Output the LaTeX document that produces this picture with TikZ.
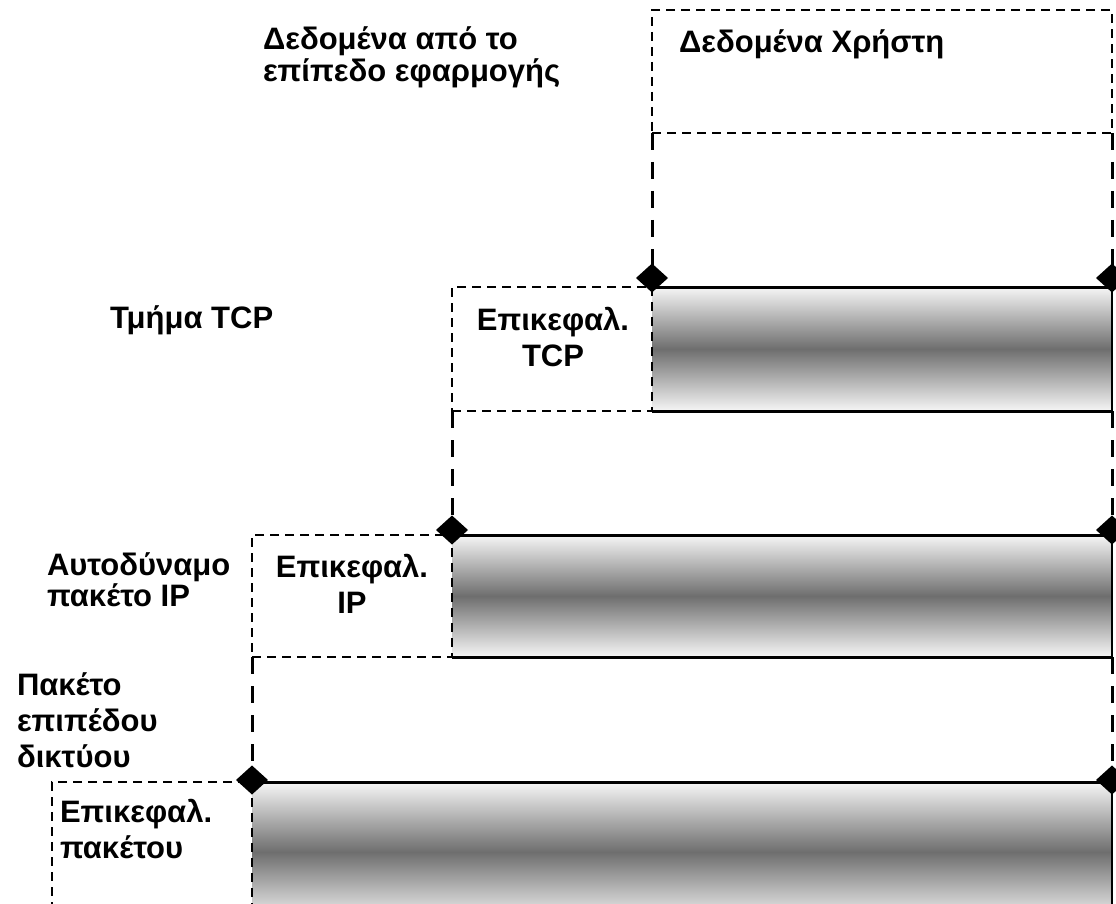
\documentclass[tikz,border=0pt]{standalone}
\usepackage{fontspec}
\setmainfont{Liberation Sans}
\usetikzlibrary{shapes.geometric}
\definecolor{bandlight}{HTML}{F6F6F6}
\definecolor{banddark}{HTML}{6E6E6E}
\begin{document}
\begin{tikzpicture}[x=1pt,y=-1pt,
  every node/.style={inner sep=0pt, outer sep=0pt},
  txt/.style={font=\fontsize{31}{30}\selectfont\bfseries, anchor=base west},
  hdrtxt/.style={font=\fontsize{31}{36}\selectfont\bfseries},
  hdrbox/.style={draw, line width=1.5pt, dash pattern=on 9pt off 6pt, anchor=north west},
  databox/.style={anchor=north west, shading=axis, top color=bandlight, bottom color=bandlight, middle color=banddark},
  link/.style={line width=3pt, dash pattern=on 17pt off 12pt},
  rim/.style={line width=3pt},
  siderim/.style={line width=2pt},
  joint/.style={diamond, fill=black, minimum width=32pt, minimum height=29pt}
]
\useasboundingbox (0,0) rectangle (1116,904);
\clip (0,0) rectangle (1116,904);

% application data
\node[hdrbox, minimum width=460pt, minimum height=123pt] (user) at (652,10) {};
\node[txt] (userlbl) at (679,53) {Δεδομένα Χρήστη};

% TCP segment
\node[databox, minimum width=460pt, minimum height=124pt] (tcpdata) at (652,287) {};
\node[hdrbox, minimum width=200pt, minimum height=124pt] (tcphdr) at (452,287) {};
\node[hdrtxt, anchor=base] (tcphdrlbl) at (553,330) {\begin{tabular}[t]{@{}c@{}}Επικεφαλ.\\TCP\end{tabular}};

% IP datagram
\node[databox, minimum width=660pt, minimum height=122pt] (ipdata) at (452,535) {};
\node[hdrbox, minimum width=200pt, minimum height=122pt] (iphdr) at (252,535) {};
\node[hdrtxt, anchor=base] (iphdrlbl) at (352,577) {\begin{tabular}[t]{@{}c@{}}Επικεφαλ.\\IP\end{tabular}};

% network-layer packet
\node[databox, minimum width=860pt, minimum height=140pt] (netdata) at (252,782) {};
\node[hdrbox, minimum width=200pt, minimum height=140pt] (nethdr) at (52,782) {};
\node[hdrtxt, anchor=base west] (nethdrlbl) at (60,822) {\begin{tabular}[t]{@{}l@{}}Επικεφαλ.\\πακέτου\end{tabular}};

% solid edges of the data blocks
\foreach \b in {tcpdata,ipdata,netdata}{
  \draw[rim] (\b.north west) -- (\b.north east);
  \draw[rim] (\b.south west) -- (\b.south east);
  \draw[siderim] (\b.north east) -- (\b.south east);
}

% joints
\node[joint] (tcpjl) at (652,278) {};
\node[joint] (tcpjr) at (1112,278) {};
\node[joint] (ipjl) at (452,530) {};
\node[joint] (ipjr) at (1112,530) {};
\node[joint] (netjl) at (252,780) {};
\node[joint] (netjr) at (1112,780) {};

% encapsulation links
\draw[link] (user.south west) -- (tcpjl.center);
\draw[link] (user.south east) -- (tcpjr.center);
\draw[link] (tcphdr.south west) -- (ipjl.center);
\draw[link] (tcpdata.south east) -- (ipjr.center);
\draw[link] (iphdr.south west) -- (netjl.center);
\draw[link] (ipdata.south east) -- (netjr.center);

% layer labels
\node[txt] (applbl) at (263,50) {\begin{tabular}[t]{@{}l@{}}Δεδομένα από το\\επίπεδο εφαρμογής\end{tabular}};
\node[txt] (tcplbl) at (110,328) {Τμήμα TCP};
\node[txt] (iplbl) at (47,575) {\begin{tabular}[t]{@{}l@{}}Αυτοδύναμο\\πακέτο IP\end{tabular}};
\node[txt, font=\fontsize{31}{36}\selectfont\bfseries] (netlbl) at (17,695) {\begin{tabular}[t]{@{}l@{}}Πακέτο\\επιπέδου\\δικτύου\end{tabular}};
\end{tikzpicture}
\end{document}
